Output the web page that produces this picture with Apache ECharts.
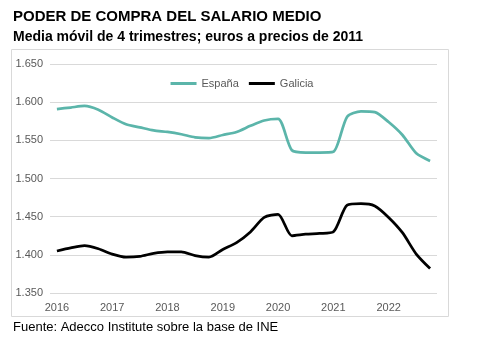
<!DOCTYPE html>
<html><head><meta charset="utf-8">
<script src="https://cdn.jsdelivr.net/npm/echarts@6/dist/echarts.min.js"></script>
<style>html,body{margin:0;padding:0;background:#fff}#c{width:484px;height:344px}</style>
</head><body><div id="c"></div>
<script>
const years = ['2016','2017','2018','2019','2020','2021','2022'];
const quarters = ['T1','T2','T3','T4'];
const categories = [];
years.forEach(y => quarters.forEach(q => categories.push(y + ' ' + q)));
const espana = [1591,1593,1595,1590,1580,1571,1567,1563,1561,1558,1554,1553,1557,1561,1569,1576,1578,1537,1534,1534,1535,1581,1588,1587,1574,1557,1533,1523];
const galicia = [1405,1409,1412,1408,1401,1397,1398,1402,1404,1404,1399,1397,1407,1416,1430,1449,1453,1425,1427,1428,1430,1465,1467,1464,1449,1429,1401,1382];
const yTicks = {min:1350, max:1650, interval:50};
const fmt = v => { const s = String(Math.round(v)); return s.length > 3 ? s.slice(0, s.length-3) + '.' + s.slice(-3) : s; };
const chart = echarts.init(document.getElementById('c'));
chart.setOption({
  animation:false,
  textStyle:{fontFamily:'Liberation Sans, Arial, sans-serif'},
  graphic:[
    {type:'rect', shape:{x:11.5,y:49.5,width:437,height:267}, style:{fill:'none', stroke:'#d9d9d9', lineWidth:1}, z:-1},
    {type:'text', left:13, top:9, style:{text:'PODER DE COMPRA DEL SALARIO MEDIO', font:'bold 15px Liberation Sans, Arial, sans-serif', fill:'#000'}},
    {type:'text', left:13, top:30, style:{text:'Media móvil de 4 trimestres; euros a precios de 2011', font:'bold 14px Liberation Sans, Arial, sans-serif', fill:'#000'}},
    {type:'text', left:13, top:321, style:{text:'Fuente: Adecco Institute sobre la base de INE', font:'13px Liberation Sans, Arial, sans-serif', fill:'#000'}}
  ],
  legend:{top:73, left:'center', itemWidth:26, itemHeight:3, itemGap:10, icon:'rect',
    textStyle:{fontSize:11, color:'#595959'}, data:['España','Galicia']},
  grid:{left:50, right:47, top:64, bottom:51},
  xAxis:{type:'category', data:categories, boundaryGap:true,
    axisLine:{show:false}, axisTick:{show:false},
    axisLabel:{interval:3, formatter:v=>v.slice(0,4), color:'#595959', fontSize:11, margin:9}},
  yAxis:{type:'value', min:yTicks.min, max:yTicks.max, interval:yTicks.interval,
    axisLine:{show:false}, axisTick:{show:false},
    splitLine:{lineStyle:{color:'#d9d9d9'}},
    axisLabel:{formatter:fmt, color:'#595959', fontSize:11, margin:7}},
  series:[
    {name:'España', type:'line', data:espana, smooth:0.25, showSymbol:false, symbol:'none',
      lineStyle:{color:'#5BB5AA', width:2.75}, itemStyle:{color:'#5BB5AA'}},
    {name:'Galicia', type:'line', data:galicia, smooth:0.25, showSymbol:false, symbol:'none',
      lineStyle:{color:'#000', width:2.75}, itemStyle:{color:'#000'}}
  ]
});
</script></body></html>
